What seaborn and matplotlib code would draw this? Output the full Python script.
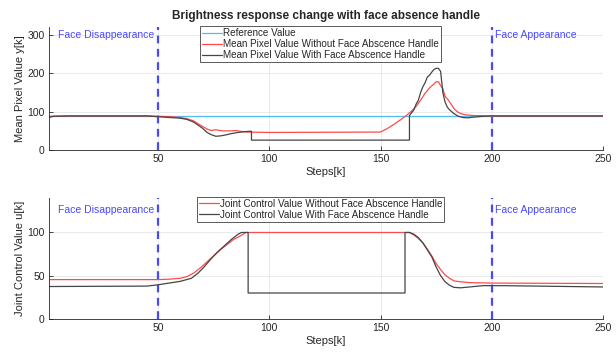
import matplotlib
matplotlib.use("Agg")
import matplotlib.pyplot as plt
import seaborn as sns

# ---- top panel: mean pixel value y[k] ----
ref_steps = [1, 250]
ref_vals = [90, 90]

y_red_steps = [1, 10, 45, 50, 55, 60, 63, 66, 69, 72, 74, 76, 79, 83, 85, 87, 90, 100,
               150, 153, 156, 159, 162, 164, 166, 168, 170, 172, 174, 175, 176, 177,
               178, 179, 180.5, 182, 183, 184.5, 186, 188, 192, 200, 250]
y_red_vals = [88, 89, 89, 88, 87, 85, 82, 76, 65, 55, 51, 53, 50, 50, 51, 49, 47, 46,
              47, 56, 67, 79, 92, 102, 114, 130, 148, 162, 172, 178, 178, 168,
              160, 140, 130, 117, 108, 100, 95, 92, 90, 89, 89]

y_blk_steps = [1, 3, 10, 45, 50, 55, 60, 63, 66, 68, 70, 72, 74, 76, 78, 80, 83, 86, 89,
               91, 92, 92, 163, 163, 165, 166, 167, 168, 169, 170, 171, 172, 173, 174,
               175, 176, 177, 178, 179, 180, 181, 182, 183, 185, 187, 189, 192, 196,
               200, 250]
y_blk_vals = [85, 88, 89, 89, 87, 85, 83, 80, 73, 65, 57, 46, 40, 36, 37, 39, 43, 46, 48,
              49, 49, 26, 26, 90, 105, 120, 130, 150, 165, 175, 190, 195, 203, 210,
              213, 213, 205, 150, 125, 112, 105, 100, 95, 88, 85, 84, 86, 88,
              89, 89]

# ---- bottom panel: joint control value u[k] ----
u_red_steps = [1, 50, 55, 60, 63, 66, 69, 72, 75, 78, 81, 84, 87, 89.5, 163, 165, 167,
               169, 171, 173, 175, 177, 179, 181, 183, 186, 190, 200, 250]
u_red_vals = [45.5, 45.5, 46, 47, 49, 53, 59, 66, 73, 80, 86, 92, 96, 100, 100, 97, 93,
              88, 81, 73, 64, 57, 51, 47, 44, 43, 42, 41.5, 41]

u_blk_steps = [1, 45, 50, 55, 60, 65, 68, 71, 74, 77, 80, 83, 86, 87.5, 90.5, 90.5, 161,
               161, 163, 165, 167, 169, 171, 173, 175, 177, 179, 181, 183, 186, 190,
               196, 205, 250]
u_blk_vals = [37.5, 38, 39.5, 41.5, 43.5, 47, 53, 61, 70, 78, 85, 92, 98, 100, 100, 30, 30,
              100, 100, 98, 94, 88, 80, 72, 60, 50, 43, 39, 36.5, 36, 37,
              38.5, 38.5, 37]

event_steps = [50, 200]
event_labels = ["Face Disappearance", "Face Appearance"]

REF_C = "#4dbeee"
RED_C = "#ff4a4a"
BLK_C = "#454545"
EVT_C = "#4848ff"

sns.set_style("whitegrid")
plt.rcParams["font.family"] = ["Liberation Sans", "DejaVu Sans"]

fig = plt.figure(figsize=(6.16, 3.54), dpi=100)
ax1 = fig.add_axes([0.0795, 0.576, 0.8995, 0.347])
ax2 = fig.add_axes([0.0795, 0.099, 0.8995, 0.342])


def line(ax, x, y, c, lab):
    sns.lineplot(x=x, y=y, ax=ax, color=c, label=lab, sort=False,
                 estimator=None, linewidth=0.9)


line(ax1, ref_steps, ref_vals, REF_C, "Reference Value")
line(ax1, y_red_steps, y_red_vals, RED_C, "Mean Pixel Value Without Face Abscence Handle")
line(ax1, y_blk_steps, y_blk_vals, BLK_C, "Mean Pixel Value With Face Abscence Handle")

line(ax2, u_red_steps, u_red_vals, RED_C, "Joint Control Value Without Face Abscence Handle")
line(ax2, u_blk_steps, u_blk_vals, BLK_C, "Joint Control Value With Face Abscence Handle")

panels = [(ax1, 320, [0, 100, 200, 300], "Mean Pixel Value y[k]", 300),
          (ax2, 140, [0, 50, 100], "Joint Control Value u[k]", 126)]

for ax, ytop, yt, ylab, ytxt in panels:
    for s in event_steps:
        ax.axvline(s, color=EVT_C, linestyle=(0, (3.5, 2.5)), linewidth=1.6, zorder=1)
    ax.text(event_steps[0] - 1.5, ytxt, event_labels[0], color=EVT_C, fontsize=7.5,
            ha="right", va="center")
    ax.text(event_steps[1] + 1.5, ytxt, event_labels[1], color=EVT_C, fontsize=7.5,
            ha="left", va="center")
    ax.set_xlim(1, 250)
    ax.set_ylim(0, ytop)
    ax.set_xticks([50, 100, 150, 200, 250])
    ax.set_yticks(yt)
    ax.tick_params(labelsize=7.5, colors="#262626", direction="in", length=3, width=0.6,
                   pad=3, bottom=True, left=True)
    ax.grid(True, color="#e6e6e6", linewidth=0.6)
    for side in ["top", "right"]:
        ax.spines[side].set_visible(False)
    for side in ["left", "bottom"]:
        ax.spines[side].set_color("#262626")
        ax.spines[side].set_linewidth(0.6)
    ax.set_xlabel("Steps[k]", fontsize=8, color="#262626", labelpad=2)
    ax.set_ylabel(ylab, fontsize=8, color="#262626", labelpad=2)
    leg = ax.legend(loc="upper center", bbox_to_anchor=(0.49, 1.01), fontsize=7.1,
                    fancybox=False, framealpha=1, edgecolor="#404040", borderpad=0.2,
                    labelspacing=0.1, handlelength=2.0, handletextpad=0.1,
                    borderaxespad=0)
    leg.get_frame().set_linewidth(0.6)

ax1.set_title("Brightness response change with face absence handle", fontsize=8.5,
              fontweight="bold", pad=6)

fig.savefig("out.png", dpi=100)
